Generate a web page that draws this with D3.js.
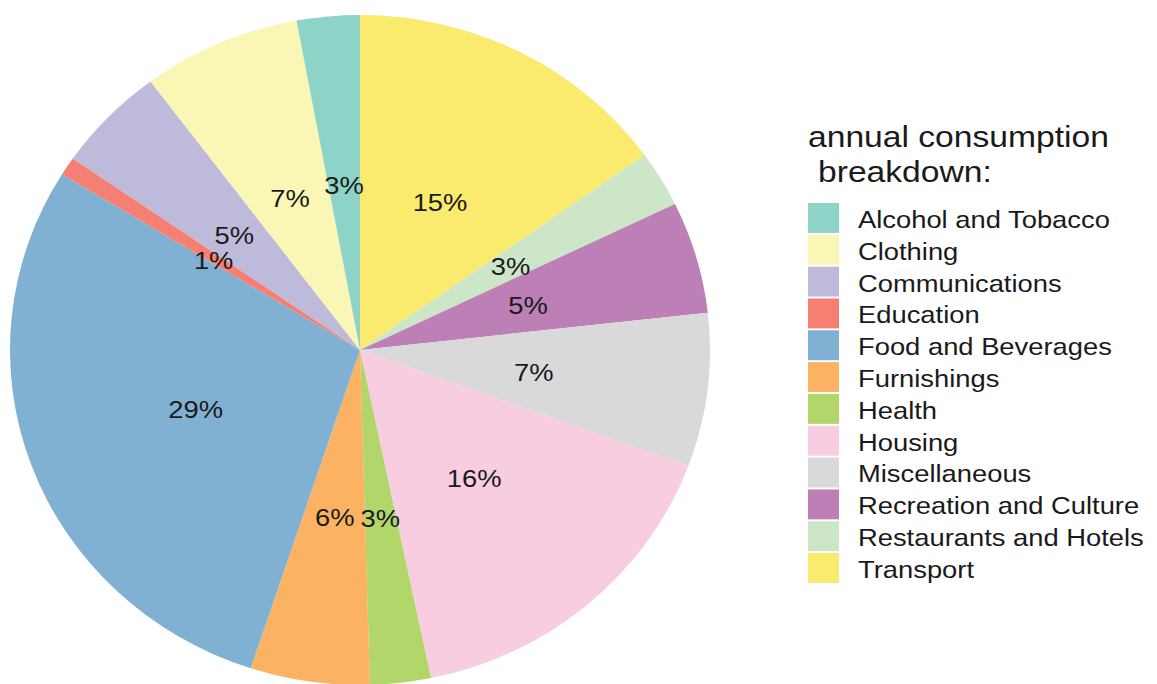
<!DOCTYPE html>
<html>
<head>
<meta charset="utf-8">
<script src="https://cdn.jsdelivr.net/npm/d3@7"></script>
<style>
  body { margin: 0; background: #fff; }
  svg { display: block; font-family: "Liberation Sans", Arial, sans-serif; }
</style>
</head>
<body>
<svg id="chart" width="1157" height="684"></svg>
<script>
const categories = [
  "Alcohol and Tobacco", "Clothing", "Communications", "Education",
  "Food and Beverages", "Furnishings", "Health", "Housing",
  "Miscellaneous", "Recreation and Culture", "Restaurants and Hotels", "Transport"
];
// share of annual consumption, percent
const shares = [2.9, 7.3, 5.1, 0.9, 28.7, 5.5, 2.8, 16.1, 7.4, 5.4, 2.7, 15.1];
const labels = ["3%", "7%", "5%", "1%", "29%", "6%", "3%", "16%", "7%", "5%", "3%", "15%"];
const colors = [
  "#8dd3c7", "#f9f6b6", "#bebada", "#f47f72", "#80b1d3", "#fbb263",
  "#b3d66a", "#f8cde2", "#d9d9d9", "#bc80b6", "#cde6c7", "#faeb6f"
];

const svg = d3.select("#chart");
const cx = 360, cy = 350, rx = 350, ry = 335;
const yScale = ry / rx;
const stretch = 1.14; // the original text is set wider than Liberation Sans

const color = d3.scaleOrdinal().domain(categories).range(colors);

const rows = categories.map((c, i) => ({ name: c, value: shares[i], label: labels[i] }));
// stacked from the top, clockwise, in reverse alphabetical order
const pie = d3.pie().sort(null).value((d) => d.value);
const arcs = pie(rows.slice().reverse());
const arc = d3.arc().innerRadius(0).outerRadius(rx);

const pieLayer = svg.append("g")
  .attr("transform", `translate(${cx},${cy}) scale(1,${yScale})`);

pieLayer.selectAll("path")
  .data(arcs)
  .enter()
  .append("path")
  .attr("d", arc)
  .attr("fill", (d) => color(d.data.name));

const place = (x, y) => `translate(${x},${y}) scale(${stretch},1)`;

svg.append("g")
  .selectAll("text")
  .data(arcs)
  .enter()
  .append("text")
  .attr("transform", (d) => {
    const [mx, my] = arc.centroid(d);
    return place(cx + mx, cy + my * yScale + 2);
  })
  .attr("text-anchor", "middle")
  .attr("dominant-baseline", "central")
  .attr("font-size", 24)
  .attr("fill", "#1a1a1a")
  .text((d) => d.data.label);

// legend
const legend = svg.append("g").attr("transform", "translate(808,0)");
legend.append("text")
  .attr("transform", place(0, 147))
  .attr("font-size", 29.5).attr("fill", "#1a1a1a")
  .text("annual consumption");
legend.append("text")
  .attr("transform", place(10, 182))
  .attr("font-size", 29.5).attr("fill", "#1a1a1a")
  .text("breakdown:");

const keyY = d3.scaleBand().domain(categories).range([203, 583]).paddingInner(0.06);

const keys = legend.selectAll("g.key")
  .data(categories)
  .enter()
  .append("g")
  .attr("class", "key")
  .attr("transform", (d) => `translate(0,${keyY(d)})`);

keys.append("rect")
  .attr("width", 31)
  .attr("height", keyY.bandwidth())
  .attr("fill", (d) => color(d));

keys.append("text")
  .attr("transform", place(50, keyY.bandwidth() / 2 + 1.5))
  .attr("dominant-baseline", "central")
  .attr("font-size", 24)
  .attr("fill", "#1a1a1a")
  .text((d) => d);
</script>
</body>
</html>
